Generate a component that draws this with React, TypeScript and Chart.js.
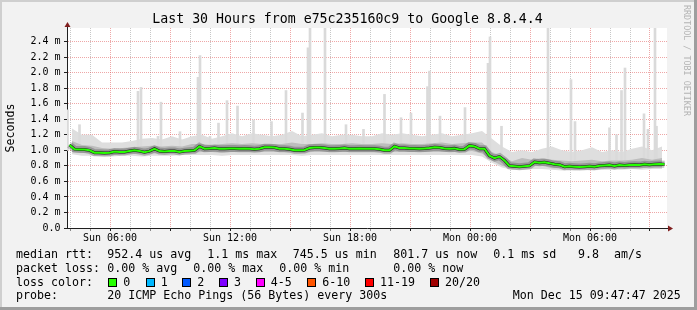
import React, { useEffect, useRef } from 'react';
import { Chart, registerables } from 'chart.js';
Chart.register(...registerables);

// ---------- data ----------
const START_H = 3.85; // hours after Sun 00:00 at the left edge
const SPAN_H = 30;

// median rtt (ms), one value per 15 minutes
const medianMs = [
  1.07, 1.015, 1.01, 1.01, 1.0, 0.97, 0.97, 0.965, 0.97, 0.985,
  0.98, 0.98, 0.99, 1.0, 0.99, 0.975, 0.99, 1.02, 0.99, 0.985,
  0.99, 0.99, 0.98, 0.99, 0.995, 1.0, 1.05, 1.02, 1.025, 1.03,
  1.02, 1.02, 1.025, 1.025, 1.02, 1.025, 1.02, 1.015, 1.02, 1.04,
  1.04, 1.035, 1.02, 1.02, 1.015, 1.0, 1.0, 1.005, 1.03, 1.035,
  1.035, 1.03, 1.02, 1.02, 1.025, 1.03, 1.02, 1.02, 1.025, 1.02,
  1.02, 1.02, 1.015, 1.0, 1.0, 1.05, 1.03, 1.03, 1.025, 1.025,
  1.02, 1.025, 1.03, 1.04, 1.035, 1.025, 1.02, 1.025, 1.01, 1.015,
  1.06, 1.05, 1.02, 1.02, 0.93, 0.9, 0.92, 0.87, 0.8, 0.795,
  0.79, 0.795, 0.8, 0.85, 0.84, 0.845, 0.835, 0.82, 0.815, 0.79,
  0.795, 0.79, 0.785, 0.79, 0.795, 0.79, 0.8, 0.805, 0.81, 0.8,
  0.81, 0.805, 0.81, 0.815, 0.81, 0.82, 0.815, 0.82, 0.825, 0.82,
];

// smoke envelopes (ms), one value per 30 minutes
const outerHiMs = [
  1.28, 1.2, 1.2, 1.1, 1.1, 1.1, 1.12, 1.15, 1.16, 1.14,
  1.18, 1.14, 1.18, 1.2, 1.15, 1.18, 1.22, 1.18, 1.22, 1.2,
  1.18, 1.2, 1.25, 1.18, 1.2, 1.22, 1.18, 1.2, 1.2, 1.18,
  1.18, 1.22, 1.2, 1.22, 1.2, 1.18, 1.2, 1.22, 1.18, 1.2,
  1.22, 1.25, 1.15, 1.05, 0.98, 1.0, 0.98, 1.02, 1.05, 1.0,
  0.98, 1.0, 1.04, 0.98, 1.0, 0.98, 1.02, 1.05, 1.0, 1.05,
];
const outerLoMs = [
  0.95, 0.93, 0.93, 0.92, 0.92, 0.93, 0.93, 0.92, 0.93, 0.93,
  0.93, 0.94, 0.94, 0.94, 0.94, 0.93, 0.94, 0.94, 0.94, 0.94,
  0.94, 0.94, 0.94, 0.93, 0.94, 0.94, 0.94, 0.94, 0.94, 0.94,
  0.94, 0.94, 0.94, 0.94, 0.94, 0.94, 0.94, 0.94, 0.94, 0.94,
  0.94, 0.92, 0.84, 0.78, 0.75, 0.75, 0.76, 0.76, 0.75, 0.74,
  0.74, 0.75, 0.74, 0.75, 0.75, 0.75, 0.76, 0.75, 0.76, 0.76,
];
const innerHiMs = [
  1.12, 1.07, 1.06, 1.03, 1.02, 1.03, 1.04, 1.05, 1.06, 1.05,
  1.06, 1.05, 1.08, 1.08, 1.07, 1.08, 1.09, 1.08, 1.09, 1.08,
  1.08, 1.08, 1.1, 1.08, 1.08, 1.09, 1.08, 1.08, 1.09, 1.08,
  1.08, 1.09, 1.08, 1.09, 1.08, 1.08, 1.09, 1.1, 1.08, 1.09,
  1.1, 1.1, 0.98, 0.92, 0.86, 0.9, 0.88, 0.9, 0.88, 0.87,
  0.86, 0.87, 0.88, 0.86, 0.87, 0.87, 0.88, 0.9, 0.88, 0.9,
];
const innerLoMs = [
  0.98, 0.97, 0.96, 0.94, 0.94, 0.95, 0.96, 0.96, 0.96, 0.96,
  0.97, 0.97, 0.97, 0.98, 0.98, 0.97, 0.98, 0.98, 0.98, 0.98,
  0.98, 0.98, 0.98, 0.97, 0.98, 0.98, 0.98, 0.98, 0.98, 0.98,
  0.98, 0.98, 0.98, 0.98, 0.98, 0.98, 0.98, 0.98, 0.98, 0.98,
  0.99, 0.96, 0.87, 0.8, 0.77, 0.78, 0.8, 0.8, 0.77, 0.77,
  0.77, 0.77, 0.77, 0.78, 0.77, 0.78, 0.78, 0.78, 0.79, 0.79,
];

// single slow pings (hours after the left edge, top in ms)
const spikeHours = [
  0.025, 0.625, 3.55, 3.7, 4.55, 4.7, 5.65, 6.55, 6.65, 7.15,
  7.575, 8.0, 8.525, 9.325, 10.225, 10.95, 11.775, 12.05, 12.15, 12.9,
  13.95, 14.825, 15.875, 16.7, 17.2, 18.025, 18.125, 18.65, 19.9, 21.05,
  21.15, 21.725, 24.05, 25.2, 25.4, 27.125, 27.475, 27.725, 27.9, 28.85,
  29.05, 29.4, 29.475,
];
const spikeTopMs = [
  1.52, 1.33, 1.76, 1.81, 1.18, 1.62, 1.24, 1.94, 2.22, 1.18,
  1.35, 1.64, 1.57, 1.39, 1.37, 1.77, 1.48, 2.32, 2.6, 2.6,
  1.33, 1.27, 1.72, 1.42, 1.48, 1.82, 2.02, 1.44, 1.55, 2.12,
  2.46, 1.31, 2.6, 1.91, 1.37, 1.29, 1.2, 1.77, 2.06, 1.47,
  1.27, 2.6, 1.31,
];
const spikeBaseMs = [
  1.0, 1.0, 1.0, 1.0, 1.0, 1.0, 1.0, 1.0, 1.0, 1.0,
  1.0, 1.0, 1.0, 1.0, 1.0, 1.0, 1.0, 1.0, 1.0, 1.0,
  1.0, 1.0, 1.0, 1.0, 1.0, 1.0, 1.0, 1.0, 1.0, 0.9,
  0.9, 0.85, 0.82, 0.82, 0.82, 0.82, 0.82, 0.82, 0.82, 0.82,
  0.82, 0.82, 0.82,
];

// axes
const yTickValues = [0, 0.1, 0.2, 0.3, 0.4, 0.5, 0.6, 0.7, 0.8, 0.9, 1.0, 1.1, 1.2, 1.3, 1.4, 1.5, 1.6, 1.7, 1.8, 1.9, 2.0, 2.1, 2.2, 2.3, 2.4, 2.5];
const yMajorLabels = ['0.0', '0.2 m', '0.4 m', '0.6 m', '0.8 m', '1.0 m', '1.2 m', '1.4 m', '1.6 m', '1.8 m', '2.0 m', '2.2 m', '2.4 m'];
const xTickHours = [4, 5, 6, 7, 8, 9, 10, 11, 12, 13, 14, 15, 16, 17, 18, 19, 20, 21, 22, 23, 24, 25, 26, 27, 28, 29, 30, 31, 32, 33];
const xLabelHours = [6, 12, 18, 24, 30];
const xLabelTexts = ['Sun 06:00', 'Sun 12:00', 'Sun 18:00', 'Mon 00:00', 'Mon 06:00'];

// legend texts
const titleText = 'Last 30 Hours from e75c235160c9 to Google 8.8.4.4';
const rttTexts = ['median rtt:', '952.4 us avg', '1.1 ms max', '745.5 us min', '801.7 us now', '0.1 ms sd', '9.8', 'am/s'];
const lossTexts = ['packet loss:', '0.00 % avg', '0.00 % max', '0.00 % min', '0.00 % now'];
const lossLabels = ['0', '1', '2', '3', '4-5', '6-10', '11-19', '20/20'];
const lossColors = ['#26ff00', '#00b8ff', '#0059ff', '#7e00ff', '#ff00ff', '#ff5500', '#ff0000', '#a00000'];
const probeTexts = ['probe:', '20 ICMP Echo Pings (56 Bytes) every 300s', 'Mon Dec 15 09:47:47 2025'];

// ---------- layout (pixels) ----------
const W = 697;
const H = 310;
const rttX = [16, 107.3, 207.3, 292.7, 393.3, 493.3, 578, 614];
const lossX = [16, 107.3, 193.3, 279.3, 393.3];
const boxX = [108, 145.5, 182, 219, 255.5, 307, 365, 430];
const boxLabelX = [123.3, 160.7, 197.3, 234, 270.7, 322.3, 380, 445];
const probeX = [16, 107.3, 512.7];

const MONO = "'DejaVu Sans Mono', monospace";
const GRID = 'rgba(143,143,143,0.5)';
const MGRID = 'rgba(222,79,79,0.5)';
const AXIS = '#1f1f1f';
const ARROW = '#801f1f';

const isMajorY = (v: number) => Math.round(v * 10) % 2 === 0;

const framePlugin = {
  id: 'rrdFrame',
  beforeDraw(chart: any) {
    const { ctx, chartArea: a } = chart;
    ctx.save();
    ctx.fillStyle = '#ffffff';
    ctx.fillRect(a.left, a.top, a.right - a.left, a.bottom - a.top);
    ctx.restore();
  },
  afterDraw(chart: any) {
    const { ctx, chartArea: a } = chart;
    const lx = Math.round(a.left) + 0.5;
    const by = Math.round(a.bottom) + 0.5;
    ctx.save();
    ctx.strokeStyle = AXIS;
    ctx.lineWidth = 1;
    ctx.beginPath();
    ctx.moveTo(lx, a.top);
    ctx.lineTo(lx, a.top - 3);
    ctx.moveTo(a.right, by);
    ctx.lineTo(a.right + 3, by);
    ctx.stroke();
    ctx.fillStyle = ARROW;
    ctx.beginPath();
    ctx.moveTo(lx, a.top - 6);
    ctx.lineTo(lx - 3, a.top - 1);
    ctx.lineTo(lx + 3, a.top - 1);
    ctx.closePath();
    ctx.fill();
    ctx.beginPath();
    ctx.moveTo(a.right + 6, by);
    ctx.lineTo(a.right + 1, by - 3);
    ctx.lineTo(a.right + 1, by + 3);
    ctx.closePath();
    ctx.fill();
    ctx.restore();
  },
};

function Txt(props: { x: number; base: number; size: number; color?: string; children: React.ReactNode }) {
  return (
    <div
      style={{
        position: 'absolute',
        left: props.x,
        top: props.base - props.size * 0.928,
        fontFamily: MONO,
        fontSize: props.size,
        lineHeight: 'normal',
        whiteSpace: 'pre',
        color: props.color || '#000',
      }}
    >
      {props.children}
    </div>
  );
}

export default function App() {
  const ref = useRef<HTMLCanvasElement>(null);

  useEffect(() => {
    const medianPts = medianMs.map((v, i) => ({ x: START_H + (i + 0.5) * 0.25, y: v }));
    const band = (arr: number[]) => arr.map((v, j) => ({ x: START_H + (j + 0.5) * 0.5, y: v }));
    const spikes = spikeHours.map((h, k) => ({ x: START_H + h, y: [spikeBaseMs[k], spikeTopMs[k]] }));
    const none = 'rgba(0,0,0,0)';

    const chart = new Chart(ref.current as HTMLCanvasElement, {
      type: 'line',
      data: {
        datasets: [
          { type: 'line', label: 'median', data: medianPts, borderColor: '#26ff00', borderWidth: 2, pointRadius: 0, fill: false, order: 0, clip: 0 },
          { type: 'line', label: 'median edge', data: medianPts, borderColor: 'rgba(0,0,0,0.8)', borderWidth: 3, pointRadius: 0, fill: false, order: 1, clip: 0 },
          { type: 'line', label: 'core smoke', data: medianPts, borderColor: 'rgba(60,60,60,0.3)', borderWidth: 7, pointRadius: 0, fill: false, order: 2, clip: 0 },
          { type: 'line', label: 'inner hi', data: band(innerHiMs), borderColor: none, borderWidth: 0, pointRadius: 0, fill: '+1', backgroundColor: '#bdbdbd', order: 3, clip: 0 },
          { type: 'line', label: 'inner lo', data: band(innerLoMs), borderColor: none, borderWidth: 0, pointRadius: 0, fill: false, order: 3, clip: 0 },
          { type: 'bar', label: 'spikes', data: spikes, backgroundColor: '#dadada', borderWidth: 0, barThickness: 2, grouped: false, order: 4, clip: 0 },
          { type: 'line', label: 'outer hi', data: band(outerHiMs), borderColor: none, borderWidth: 0, pointRadius: 0, fill: '+1', backgroundColor: '#dedede', order: 5, clip: 0 },
          { type: 'line', label: 'outer lo', data: band(outerLoMs), borderColor: none, borderWidth: 0, pointRadius: 0, fill: false, order: 5, clip: 0 },
        ] as any,
      },
      options: {
        responsive: false,
        devicePixelRatio: 1,
        animation: false,
        events: [],
        layout: { padding: { left: 0, top: 28, right: 30, bottom: 62 } },
        plugins: { legend: { display: false }, tooltip: { enabled: false }, title: { display: false } },
        scales: {
          x: {
            type: 'linear',
            min: START_H,
            max: START_H + SPAN_H,
            offset: false,
            afterBuildTicks: (s: any) => {
              s.ticks = xTickHours.map((h) => ({ value: h }));
            },
            afterFit: (s: any) => {
              s.height = 20;
            },
            ticks: {
              autoSkip: false,
              maxRotation: 0,
              minRotation: 0,
              padding: 1,
              color: '#000',
              font: { family: MONO, size: 10 },
              callback: (v: any) => {
                const k = xLabelHours.indexOf(Math.round(Number(v)));
                return k >= 0 ? xLabelTexts[k] : '';
              },
            },
            grid: {
              offset: false,
              lineWidth: 1,
              color: (c: any) => (Math.round(c.tick.value) % 3 === 0 ? MGRID : GRID),
              tickLength: 3,
              tickColor: (c: any) => (Math.round(c.tick.value) % 3 === 0 ? AXIS : 'rgba(31,31,31,0.5)'),
            },
            border: { display: true, color: AXIS, width: 1, dash: [1, 1] },
          },
          y: {
            type: 'linear',
            min: 0,
            max: 2.575,
            afterBuildTicks: (s: any) => {
              s.ticks = yTickValues.map((v) => ({ value: v }));
            },
            afterFit: (s: any) => {
              s.width = 67;
            },
            ticks: {
              padding: 3.5,
              color: '#000',
              font: { family: MONO, size: 10 },
              callback: (v: any) => {
                const n = Number(v);
                if (!isMajorY(n)) return '';
                const k = Math.round(n * 5);
                return yMajorLabels[k] ?? '';
              },
            },
            grid: {
              lineWidth: 1,
              color: (c: any) => (isMajorY(c.tick.value) ? MGRID : GRID),
              tickLength: 3,
              tickColor: (c: any) => (isMajorY(c.tick.value) ? AXIS : 'rgba(31,31,31,0.5)'),
            },
            border: { display: true, color: AXIS, width: 1, dash: [1, 1] },
            title: {
              display: true,
              text: 'Seconds',
              color: '#000',
              font: { family: MONO, size: 11.6 },
              padding: { top: 4, bottom: 0 },
            },
          },
        },
      } as any,
      plugins: [framePlugin],
    });
    return () => chart.destroy();
  }, []);

  return (
    <div style={{ position: 'fixed', left: 0, top: 0, width: W, height: H, background: '#f2f2f2', overflow: 'hidden' }}>
      <div style={{ position: 'absolute', left: 0, top: 0, width: W, height: 2, background: '#cfcfcf' }} />
      <div style={{ position: 'absolute', left: 0, top: 0, width: 2, height: H, background: '#cfcfcf' }} />
      <div style={{ position: 'absolute', left: 0, top: H - 3, width: W, height: 3, background: '#9e9e9e' }} />
      <div style={{ position: 'absolute', left: W - 3, top: 0, width: 3, height: H, background: '#9e9e9e' }} />
      <canvas ref={ref} width={W} height={H} style={{ position: 'absolute', left: 0, top: 0 }} />
      <Txt x={152.3} base={23.3} size={13.24}>{titleText}</Txt>
      <div
        style={{
          position: 'absolute',
          left: 682,
          top: 5,
          writingMode: 'vertical-rl',
          fontFamily: MONO,
          fontSize: 8.4,
          lineHeight: '10px',
          color: '#b4b4b4',
          whiteSpace: 'pre',
        }}
      >
        RRDTOOL / TOBI OETIKER
      </div>
      {rttTexts.map((t, i) => (
        <Txt key={'r' + i} x={rttX[i]} base={257.4} size={11.63}>{t}</Txt>
      ))}
      {lossTexts.map((t, i) => (
        <Txt key={'l' + i} x={lossX[i]} base={271.3} size={11.63}>{t}</Txt>
      ))}
      <Txt x={16} base={285.3} size={11.63}>loss color:</Txt>
      {lossLabels.map((t, i) => (
        <React.Fragment key={'c' + i}>
          <div
            style={{
              position: 'absolute',
              left: boxX[i],
              top: 277.5,
              width: 9,
              height: 9,
              boxSizing: 'border-box',
              border: '1px solid #000',
              background: lossColors[i],
            }}
          />
          <Txt x={boxLabelX[i]} base={285.3} size={11.63}>{t}</Txt>
        </React.Fragment>
      ))}
      {probeTexts.map((t, i) => (
        <Txt key={'p' + i} x={probeX[i]} base={299} size={11.63}>{t}</Txt>
      ))}
    </div>
  );
}
